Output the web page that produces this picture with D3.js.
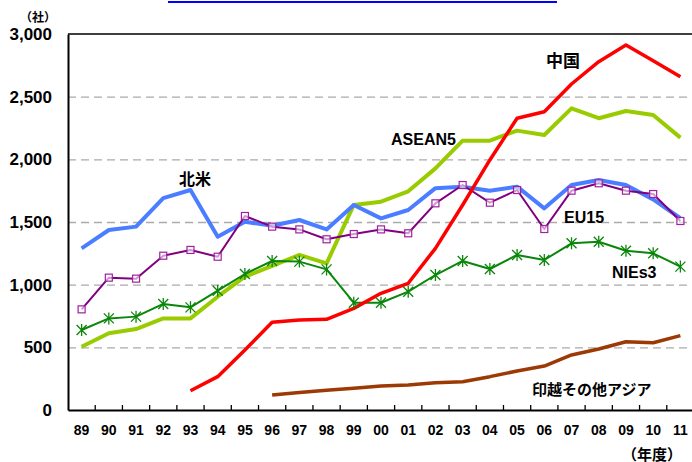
<!DOCTYPE html>
<html>
<head>
<meta charset="utf-8">
<script src="https://cdn.jsdelivr.net/npm/d3@7"></script>
<style>
  body { margin: 0; background: #fff; }
  svg { display: block; }
  text { font-family: "Liberation Sans", "Noto Sans CJK JP", sans-serif; font-weight: bold; }
</style>
</head>
<body>
<svg id="chart" width="692" height="462"></svg>
<script>
// 年度
var years = ["89","90","91","92","93","94","95","96","97","98","99","00","01","02","03","04","05","06","07","08","09","10","11"];
var yTicks = [0, 500, 1000, 1500, 2000, 2500, 3000];

// 社数
var hokubei = [1290,1436,1463,1690,1755,1383,1502,1470,1516,1441,1636,1529,1596,1770,1782,1750,1782,1609,1795,1835,1795,1680,1530];
var eu15    = [803,1056,1048,1231,1277,1223,1548,1463,1441,1362,1404,1441,1410,1649,1795,1654,1755,1444,1750,1809,1750,1723,1508];
var nies3   = [638,731,745,846,819,952,1085,1189,1184,1122,856,856,944,1077,1189,1125,1237,1197,1330,1343,1271,1250,1144];
var asean5  = [505,612,646,731,731,904,1064,1150,1237,1170,1636,1662,1745,1928,2149,2149,2229,2194,2407,2328,2386,2354,2173];
var china   = [null,null,null,null,154,266,479,700,718,724,811,931,1011,1290,1636,1995,2328,2380,2601,2779,2912,2786,2659];
var otherAsia = [null,null,null,null,null,null,null,120,140,157,173,191,200,218,226,266,311,351,439,487,545,537,593];

var svg = d3.select("#chart");
var mLeft = 68, mTop = 34, mBottom = 410, mRight = 694;

var x = d3.scaleBand().domain(years).range([mLeft, mRight]).padding(0);
var y = d3.scaleLinear().domain([0, 3000]).range([mBottom, mTop]);

// 上の青線
svg.append("line")
  .attr("x1", 168).attr("x2", 557).attr("y1", 2).attr("y2", 2)
  .attr("stroke", "#0000ff").attr("stroke-width", 2);

// grid
svg.append("g")
  .attr("transform", "translate(" + mLeft + ",0)")
  .call(d3.axisLeft(y).tickValues([500,1000,1500,2000,2500]).tickSize(-(692 - mLeft)).tickFormat(""))
  .call(function(g){
    g.select(".domain").remove();
    g.selectAll("line").attr("stroke", "#aaa").attr("stroke-width", 1.3).attr("stroke-dasharray", "8,5");
  });

// top border
svg.append("line")
  .attr("x1", mLeft).attr("x2", 692).attr("y1", y(3000)).attr("y2", y(3000))
  .attr("stroke", "#000").attr("stroke-width", 1.3);

// y axis
svg.append("g")
  .attr("transform", "translate(" + mLeft + ",0)")
  .call(d3.axisLeft(y).tickValues(yTicks).tickSize(0).tickPadding(16).tickFormat(d3.format(",")))
  .call(function(g){
    g.select(".domain").attr("stroke", "#000").attr("stroke-width", 2);
    g.selectAll("text").attr("font-size", 17).attr("fill", "#000");
  });

// x axis
svg.append("g")
  .attr("transform", "translate(0," + mBottom + ")")
  .call(d3.axisBottom(x).tickSize(0).tickPadding(15))
  .call(function(g){
    g.select(".domain").attr("stroke", "#000").attr("stroke-width", 2);
    g.selectAll("text").attr("font-size", 14).attr("fill", "#000");
  });

// band boundary ticks (inward)
svg.append("g").selectAll("line")
  .data(years.slice(1))
  .enter().append("line")
  .attr("x1", function(d){ return x(d); })
  .attr("x2", function(d){ return x(d); })
  .attr("y1", mBottom).attr("y2", mBottom - 5)
  .attr("stroke", "#000").attr("stroke-width", 1.3);

var cx = function(d, i){ return x(years[i]) + x.bandwidth() / 2; };
var line = d3.line()
  .defined(function(d){ return d != null; })
  .x(cx)
  .y(function(d){ return y(d); });

function drawLine(data, color, width) {
  svg.append("path")
    .datum(data)
    .attr("fill", "none")
    .attr("stroke", color)
    .attr("stroke-width", width)
    .attr("stroke-linejoin", "round")
    .attr("d", line);
}

drawLine(otherAsia, "#9c3a06", 3.5);
drawLine(asean5, "#99cc00", 4);
drawLine(hokubei, "#4a7dff", 4);
drawLine(nies3, "#0a860a", 2);
drawLine(eu15, "#800080", 2);
drawLine(china, "#ff0000", 3.5);

// EU15 markers
svg.append("g").selectAll("rect")
  .data(eu15)
  .enter().append("rect")
  .attr("x", function(d, i){ return cx(d, i) - 3.5; })
  .attr("y", function(d){ return y(d) - 3.5; })
  .attr("width", 7).attr("height", 7)
  .attr("fill", "#fff").attr("fill-opacity", 0.6)
  .attr("stroke", "#a020a0").attr("stroke-width", 1.2);

// NIEs3 markers (asterisk)
var star = svg.append("g").selectAll("g")
  .data(nies3)
  .enter().append("g")
  .attr("transform", function(d, i){ return "translate(" + cx(d, i) + "," + y(d) + ")"; });
star.append("path")
  .attr("d", "M-5,-5L5,5M-5,5L5,-5M0,-6L0,6")
  .attr("stroke", "#0a860a").attr("stroke-width", 1.3);

// labels
var labels = [
  { t: "（社）", x: 20, y: 22, s: 12, w: "normal", f: "'Noto Sans CJK JP'" },
  { t: "北米", x: 179, y: 185, s: 16, w: "bold", f: "'Noto Sans CJK JP'" },
  { t: "ASEAN5", x: 391, y: 145, s: 16, w: "bold", f: "'Liberation Sans'" },
  { t: "中国", x: 546, y: 67, s: 17, w: "bold", f: "'Noto Sans CJK JP'" },
  { t: "EU15", x: 564, y: 223, s: 16, w: "bold", f: "'Liberation Sans'" },
  { t: "NIEs3", x: 612, y: 278, s: 16, w: "bold", f: "'Liberation Sans'" },
  { t: "印越その他アジア", x: 532, y: 395, s: 15, w: "bold", f: "'Noto Sans CJK JP'" },
  { t: "（年度）", x: 622, y: 460, s: 15, w: "bold", f: "'Noto Sans CJK JP'" }
];
svg.append("g").selectAll("text")
  .data(labels)
  .enter().append("text")
  .attr("x", function(d){ return d.x; })
  .attr("y", function(d){ return d.y; })
  .attr("font-size", function(d){ return d.s; })
  .attr("font-weight", function(d){ return d.w; })
  .attr("font-family", function(d){ return d.f + ", sans-serif"; })
  .attr("fill", "#000")
  .text(function(d){ return d.t; });
</script>
</body>
</html>
